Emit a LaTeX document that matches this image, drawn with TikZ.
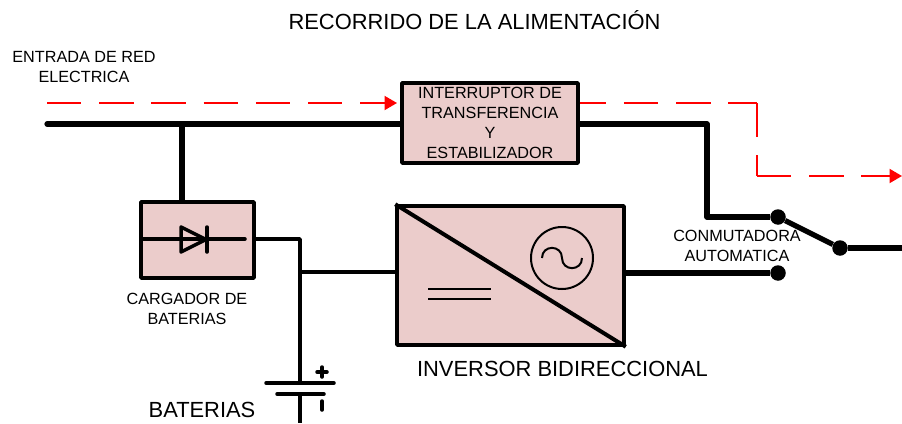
\documentclass[tikz,border=0pt]{standalone}
\usepackage{fontspec}
\setmainfont{Liberation Sans}
\definecolor{boxpink}{HTML}{EBCCCB}
\usetikzlibrary{arrows.meta}
\tikzset{
    block/.style={draw, line width=3.5pt, fill=boxpink, rectangle, inner sep=0pt, line join=round, align=center},
    small/.style={font=\fontsize{16.2}{20}\selectfont, align=center},
    large/.style={font=\fontsize{21.9}{26}\selectfont},
    wire/.style={line width=3.5pt, line join=round},
    busbar/.style={line width=5.2pt, line join=round},
    symbol/.style={line width=2pt},
    flow/.style={red, line width=2pt, dash pattern=on 34.4pt off 17.8pt},
    tip/.style={-{Triangle[length=12.5pt,width=14pt]}},
    contact/.style={circle, fill=black, inner sep=0pt, minimum size=15.5pt},
}
\begin{document}
\begin{tikzpicture}[x=1pt, y=-1pt]
\useasboundingbox (0,0) rectangle (902,423);

\node[large] (title) at (474.5,20.5) {RECORRIDO DE LA ALIMENTACIÓN};
\node[small] (entrada) at (84,67.5) {ENTRADA DE RED\\ELECTRICA};

\node[block, small, minimum width=176pt, minimum height=80pt] (switch) at (490,123) {INTERRUPTOR DE\\TRANSFERENCIA\\Y\\ESTABILIZADOR};
\node[block, minimum width=113pt, minimum height=76pt] (charger) at (197.5,240) {};
\node[block, minimum width=227pt, minimum height=139pt] (inverter) at (510.5,275.5) {};
\node[small] (chargertext) at (187,309) {CARGADOR DE\\BATERIAS};
\node[large] (invertertext) at (562.5,368.5) {INVERSOR BIDIRECCIONAL};
\node[small] (switchlabel) at (737,246) {CONMUTADORA\\AUTOMATICA};
\node[large] (battext) at (202,410) {BATERIAS};

\node[contact] (dotA) at (778,217) {};
\node[contact] (dotB) at (778,273) {};
\node[contact] (dotC) at (840,248) {};
\coordinate (inL) at (47,124);
\coordinate (tap) at (182,124);
\coordinate (outR) at (902,248);
\coordinate (plateA) at (300,383);
\coordinate (plateB) at (300,394);
\coordinate (batEnd) at (300,423);
\coordinate (branch) at (300,272);

% mains and output
\draw[busbar, line cap=round] (inL)--(switch.west |- inL);
\draw[busbar] (switch.east |- inL)--(707,124)--(707,217)--(dotA);
\draw[busbar] (tap)--(tap |- charger.north);
\draw[busbar] (dotA)--(dotC);
\draw[busbar] (dotC)--(outR);
\draw[busbar] (inverter.east |- dotB)--(dotB);

% charger and battery
\draw[wire] (charger.east |- 0,239)--(300,239)--(plateA);
\draw[wire] (branch)--(inverter.west |- branch);
\draw[wire, line cap=round] (266,383)--(334,383);
\draw[wire, line cap=round] (277,394)--(324,394);
\draw[wire] (plateB)--(batEnd);
\draw[wire, line cap=round] (322,367)--(322,377);
\draw[wire, line cap=round] (317,372)--(327,372);
\draw[wire, line cap=round] (322,401)--(322,410);

% diode
\draw[wire, line cap=round] (143,239)--(245,239);
\draw[wire] (181,227)--(206,239.5)--(181,252)--cycle;
\draw[wire, line cap=round] (207,227)--(207,252);

% inverter symbols
\draw[line width=4pt] (inverter.north west)--(inverter.south east);
\draw[symbol] (428,288.5)--(491,288.5);
\draw[symbol] (428,299)--(491,299);
\draw[symbol] (562,258) circle (31pt);
\draw[symbol] (542,258) .. controls (542,244.5) and (562,244.5) .. (562,258) .. controls (562,271.5) and (582,271.5) .. (582,258);

% power path
\draw[flow, tip] (47,103)--(397,103);
\draw[flow, dash phase=8pt] (switch.east |- 0,103)--(757,103);
\draw[flow] (757,103)--(757,176);
\draw[flow, tip] (757,176)--(902,176);
\end{tikzpicture}
\end{document}
